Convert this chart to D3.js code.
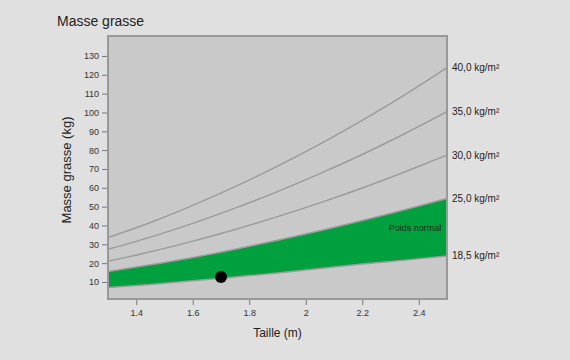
<!DOCTYPE html>
<html><head><meta charset="utf-8">
<script src="https://cdn.jsdelivr.net/npm/d3@7"></script>
<style>
html,body{margin:0;padding:0;background:#e0e0e0;}
svg{display:block;font-family:"Liberation Sans",Arial,sans-serif;}
</style></head>
<body>
<svg id="c" width="570" height="360"></svg>
<script>
// Data
const heights = [1.3, 1.45, 1.6, 1.75, 1.9, 2.05, 2.2, 2.35, 2.5];
const bmi185 = [7.0, 8.7, 10.6, 12.7, 14.8, 17.1, 19.5, 21.6, 23.8];
const bmi25  = [15.5, 19.1, 23.0, 27.4, 32.1, 37.2, 42.6, 48.3, 54.4];
const bmi30  = [21.0, 26.0, 31.7, 37.9, 44.7, 52.0, 59.9, 68.4, 77.4];
const bmi35  = [27.3, 33.8, 41.1, 49.2, 58.0, 67.5, 77.7, 88.7, 100.4];
const bmi40  = [33.6, 41.6, 50.7, 60.6, 71.5, 83.2, 95.8, 109.3, 123.8];
const curveLabels = ["18,5 kg/m²", "25,0 kg/m²", "30,0 kg/m²", "35,0 kg/m²", "40,0 kg/m²"];
const xTicks = [1.4, 1.6, 1.8, 2, 2.2, 2.4];
const yTicks = [10, 20, 30, 40, 50, 60, 70, 80, 90, 100, 110, 120, 130];
const point = {h: 1.7, m: 12.6};

const svg = d3.select("#c");
const L = 108, R = 447, T = 36, B = 299;
const x = d3.scaleLinear().domain([1.3, 2.5]).range([L, R]);
const y = d3.scaleLinear().domain([0.96, 140.6]).range([B, T]);

svg.append("defs").append("clipPath").attr("id","clip")
  .append("rect").attr("x",L).attr("y",T).attr("width",R-L).attr("height",B-T);

svg.append("rect").attr("x",L).attr("y",T).attr("width",R-L).attr("height",B-T)
  .attr("fill","#c9c9c9");

const series = [bmi185, bmi25, bmi30, bmi35, bmi40];
const g = svg.append("g").attr("clip-path","url(#clip)");

const area = d3.area().x((d,i)=>x(heights[i])).y0((d,i)=>y(bmi185[i])).y1(d=>y(d))
  .curve(d3.curveNatural);
g.append("path").datum(bmi25).attr("d", area).attr("fill","#00a03e");

const line = d3.line().x((d,i)=>x(heights[i])).y(d=>y(d)).curve(d3.curveNatural);
series.forEach(s=>{
  g.append("path").datum(s).attr("d", line).attr("fill","none")
    .attr("stroke","#9c9c9c").attr("stroke-width",1.5);
});

g.append("text").attr("x", x(2.48)).attr("y", y(37)).attr("text-anchor","end")
  .attr("font-size", 9).attr("fill","#1a2a1a").text("Poids normal");

svg.append("circle").attr("cx", x(point.h)).attr("cy", y(point.m)).attr("r", 6)
  .attr("fill","#000");

svg.append("rect").attr("x",L).attr("y",T).attr("width",R-L).attr("height",B-T)
  .attr("fill","none").attr("stroke","#999").attr("stroke-width",2);

// axes
const yAxis = svg.append("g").attr("transform",`translate(${L-1},0)`)
  .call(d3.axisLeft(y).tickValues(yTicks).tickSize(5).tickPadding(3));
const xAxis = svg.append("g").attr("transform",`translate(0,${B+1})`)
  .call(d3.axisBottom(x).tickValues(xTicks).tickSize(5).tickPadding(5).tickFormat(d3.format("")));
[yAxis, xAxis].forEach(a=>{
  a.select(".domain").remove();
  a.selectAll("line").attr("stroke","#777");
  a.selectAll("text").attr("font-size",9).attr("fill","#333").attr("font-family","'Liberation Sans',Arial,sans-serif");
});

// right labels
series.forEach((s,i)=>{
  svg.append("text").attr("x", 452).attr("y", y(s[s.length-1])).attr("dy","0.35em")
    .attr("font-size",10).attr("fill","#222").text(curveLabels[i]);
});

svg.append("text").attr("x",57).attr("y",26).attr("font-size",14).attr("fill","#222").text("Masse grasse");
svg.append("text").attr("transform",`translate(71,170) rotate(-90)`).attr("text-anchor","middle")
  .attr("font-size",13).attr("fill","#222").text("Masse grasse (kg)");
svg.append("text").attr("x",(L+R)/2).attr("y",337).attr("text-anchor","middle")
  .attr("font-size",12).attr("fill","#222").text("Taille (m)");
</script>
</body></html>
